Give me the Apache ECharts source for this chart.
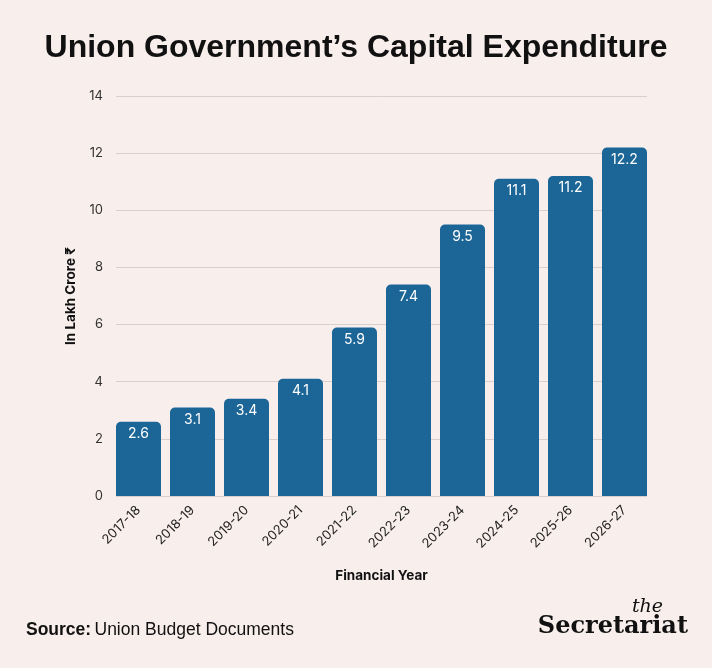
<!DOCTYPE html>
<html>
<head>
<meta charset="utf-8">
<script src="https://cdn.jsdelivr.net/npm/echarts@6/dist/echarts.min.js"></script>
<style>
  html, body { margin: 0; padding: 0; background: #f8eeec; }
  #chart { width: 712px; height: 668px; }
</style>
</head>
<body>
<div id="chart"></div>
<script>
var years = ['2017-18', '2018-19', '2019-20', '2020-21', '2021-22', '2022-23', '2023-24', '2024-25', '2025-26', '2026-27'];
var capex = [2.6, 3.1, 3.4, 4.1, 5.9, 7.4, 9.5, 11.1, 11.2, 12.2];
var yMin = 0, yMax = 14, yStep = 2;

var myChart = echarts.init(document.getElementById('chart'));
var option = {
    backgroundColor: '#f8eeec',
    animation: false,
    title: {
        text: 'Union Government\u2019s Capital Expenditure',
        left: 'center',
        top: 27,
        textStyle: {
            fontFamily: 'Liberation Sans',
            fontWeight: 'bold',
            fontSize: 32,
            color: '#111'
        }
    },
    // grid 0 carries the y axis + gridlines, grid 1 the bars (bars sit flush with gridline ends)
    grid: [
        { left: 116, right: 65, top: 96, bottom: 172 },
        { left: 111.5, right: 60.5, top: 96, bottom: 172 }
    ],
    xAxis: [
        { type: 'value', gridIndex: 0, show: false, min: 0, max: 1 },
        {
            type: 'category',
            gridIndex: 1,
            data: years,
            axisLine: { show: false },
            axisTick: { show: false },
            axisLabel: {
                rotate: 45,
                margin: 12,
                fontFamily: 'Inter',
                fontSize: 13,
                color: '#222'
            },
            name: 'Financial Year',
            nameLocation: 'middle',
            nameGap: 73,
            nameTextStyle: {
                fontFamily: 'Inter',
                fontWeight: 'bold',
                fontSize: 13.5,
                color: '#111'
            }
        }
    ],
    yAxis: [
        {
            type: 'value',
            gridIndex: 0,
            min: yMin,
            max: yMax,
            interval: yStep,
            axisLine: { show: false },
            axisTick: { show: false },
            axisLabel: {
                margin: 13,
                fontFamily: 'Inter',
                fontSize: 13,
                color: '#333'
            },
            splitLine: { lineStyle: { color: '#d9cfcd', width: 1 } },
            name: 'In Lakh Crore \u20b9',
            nameLocation: 'middle',
            nameGap: 38,
            nameTextStyle: {
                fontFamily: 'Inter',
                fontWeight: 'bold',
                fontSize: 13.5,
                color: '#111'
            }
        },
        { type: 'value', gridIndex: 1, min: yMin, max: yMax, show: false }
    ],
    series: [
        {
            type: 'bar',
            xAxisIndex: 1,
            yAxisIndex: 1,
            data: capex,
            barWidth: 45,
            itemStyle: {
                color: '#1c6597',
                borderRadius: [5, 5, 0, 0]
            },
            label: {
                show: true,
                position: 'insideTop',
                distance: 5,
                fontFamily: 'Inter',
                fontSize: 14,
                color: '#ffffff'
            }
        }
    ],
    graphic: [
        {
            type: 'text',
            left: 26,
            top: 621,
            style: {
                rich: {
                    b: { fontFamily: 'Liberation Sans', fontWeight: 'bold', fontSize: 17.5, fill: '#111' },
                    n: { fontFamily: 'Liberation Sans', fontSize: 17.5, fill: '#111' }
                },
                text: '{b|Source:} {n|Union Budget Documents}'
            }
        },
        {
            type: 'text',
            right: 49,
            top: 598,
            style: {
                text: 'the',
                fontFamily: 'DejaVu Serif',
                fontStyle: 'italic',
                fontSize: 19,
                fill: '#111'
            }
        },
        {
            type: 'text',
            right: 24,
            top: 615,
            style: {
                text: 'Secretariat',
                fontFamily: 'DejaVu Serif',
                fontWeight: 'bold',
                fontSize: 24,
                fill: '#111'
            }
        }
    ]
};
myChart.setOption(option);
</script>
</body>
</html>
